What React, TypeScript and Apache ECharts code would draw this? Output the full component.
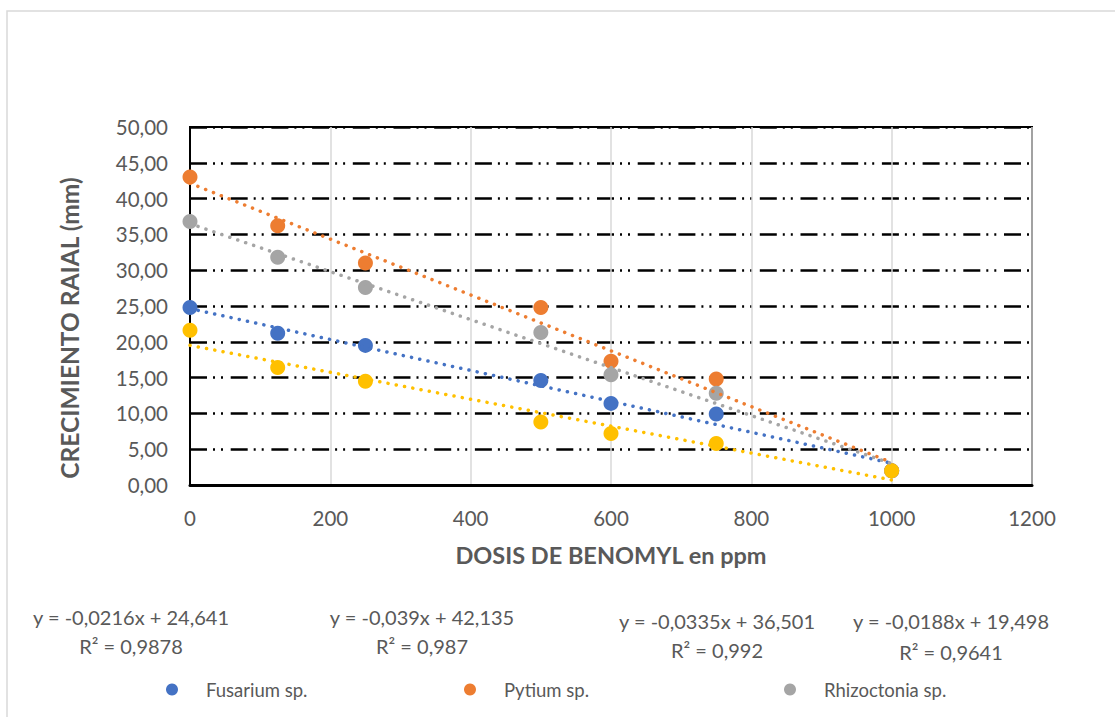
import React, { useEffect, useRef } from "react";
import * as echarts from "echarts";

const doses = [0, 125, 250, 500, 600, 750, 1000];
const fusarium = [24.8, 21.2, 19.5, 14.6, 11.4, 9.9, 2.0];
const pytium = [43.0, 36.2, 31.0, 24.8, 17.3, 14.8, 2.0];
const rhizoctonia = [36.8, 31.8, 27.6, 21.3, 15.4, 12.8, 2.0];
const serie4 = [21.6, 16.4, 14.5, 8.8, 7.2, 5.8, 2.0];

const trendX = [0, 1000];
const fusariumTrend = [24.64, 3.04];
const pytiumTrend = [42.14, 3.14];
const rhizoctoniaTrend = [36.5, 3.0];
const serie4Trend = [19.5, 0.7];

const seriesNames = ["Fusarium sp.", "Pytium sp.", "Rhizoctonia sp.", "Serie 4"];
const colors = ["#4472C4", "#ED7D31", "#A5A5A5", "#FFC000"];
const equations = [
  ["y = -0,0216x + 24,641", "R² = 0,9878"],
  ["y = -0,039x + 42,135", "R² = 0,987"],
  ["y = -0,0335x + 36,501", "R² = 0,992"],
  ["y = -0,0188x + 19,498", "R² = 0,9641"],
];

const FONT = "Lato";
const TXT = "#595959";

export default function App() {
  const ref = useRef<HTMLDivElement>(null);
  useEffect(() => {
    document.body.style.margin = "0";
    const chart = echarts.init(ref.current!, null, { renderer: "svg" });
    const allData = [fusarium, pytium, rhizoctonia, serie4];
    const allTrend = [fusariumTrend, pytiumTrend, rhizoctoniaTrend, serie4Trend];
    const scatter = allData.map((d, i) => ({
      name: seriesNames[i],
      type: "scatter",
      symbol: "circle",
      symbolSize: 15,
      itemStyle: { color: colors[i], opacity: 1 },
      data: doses.map((x, j) => [x, d[j]]),
      z: 3,
    }));
    const trends = allTrend.map((d, i) => ({
      name: seriesNames[i] + " tendencia",
      type: "line",
      symbol: "none",
      silent: true,
      lineStyle: { color: colors[i], width: 3.5, type: [0.1, 8.3], cap: "round" },
      data: trendX.map((x, j) => [x, d[j]]),
      z: 4,
    }));
    const eqPos = [
      [131, 617, 646],
      [422, 617, 646],
      [717, 621, 650],
      [951, 621, 652],
    ];
    const graphics: any[] = [
      {
        type: "rect",
        shape: { x: 7, y: 11, width: 1300, height: 900 },
        style: { fill: "none", stroke: "#d9d9d9", lineWidth: 1.5 },
        z: -10,
        silent: true,
      },
    ];
    equations.forEach((eq, i) => {
      graphics.push({
        type: "text",
        x: eqPos[i][0],
        y: eqPos[i][1],
        style: { text: eq[0], font: `20px ${FONT}`, fill: TXT, textAlign: "center", textVerticalAlign: "middle" },
      });
      graphics.push({
        type: "text",
        x: eqPos[i][0],
        y: eqPos[i][2],
        style: { text: eq[1], font: `20px ${FONT}`, fill: TXT, textAlign: "center", textVerticalAlign: "middle" },
      });
    });
    const legendLefts = [161, 459, 779];
    chart.setOption({
      animation: false,
      textStyle: { fontFamily: FONT },
      grid: {
        left: 190,
        right: 83,
        top: 127,
        bottom: 232,
        show: true,
        borderColor: "#000",
        borderWidth: 2,
        containLabel: false,
      },
      legend: legendLefts.map((l, i) => ({
        data: [seriesNames[i]],
        left: l,
        top: 675,
        icon: "circle",
        itemWidth: 12,
        itemHeight: 12,
        textStyle: { fontFamily: FONT, fontSize: 18.5, color: TXT, padding: [0, 0, 0, 23] },
      })),
      xAxis: {
        type: "value",
        min: 0,
        max: 1200,
        interval: 200,
        name: "DOSIS DE BENOMYL en ppm",
        nameLocation: "middle",
        nameGap: 58,
        nameTextStyle: { fontFamily: FONT, fontSize: 23.5, fontWeight: "bold", color: TXT },
        axisLine: { show: true, lineStyle: { color: "#000", width: 3 } },
        axisTick: { show: false },
        axisLabel: { fontFamily: FONT, fontSize: 20.5, color: TXT, margin: 22, formatter: (v: number) => String(v) },
        splitLine: { show: true, lineStyle: { color: "#d9d9d9", width: 1.5 } },
      },
      yAxis: {
        type: "value",
        min: 0,
        max: 50,
        interval: 5,
        name: "CRECIMIENTO RAIAL (mm)",
        nameLocation: "middle",
        nameGap: 108,
        nameMoveOverlap: false,
        nameTextStyle: { fontFamily: FONT, fontSize: 24.5, fontWeight: "bold", color: TXT, padding: [0, 44, 0, 0] },
        axisLine: { show: true, lineStyle: { color: "#000", width: 2 } },
        axisTick: { show: false },
        axisLabel: {
          fontFamily: FONT,
          fontSize: 20.5,
          color: TXT,
          margin: 22,
          formatter: (v: number) => v.toFixed(2).replace(".", ","),
        },
        splitLine: {
          show: true,
          lineStyle: { color: "#000", width: 2.5, type: [17, 6, 2, 6, 2, 7.7] },
        },
      },
      graphic: graphics,
      series: [...scatter, ...trends],
    });
    return () => chart.dispose();
  }, []);
  return <div ref={ref} style={{ width: 1115, height: 717 }} />;
}
